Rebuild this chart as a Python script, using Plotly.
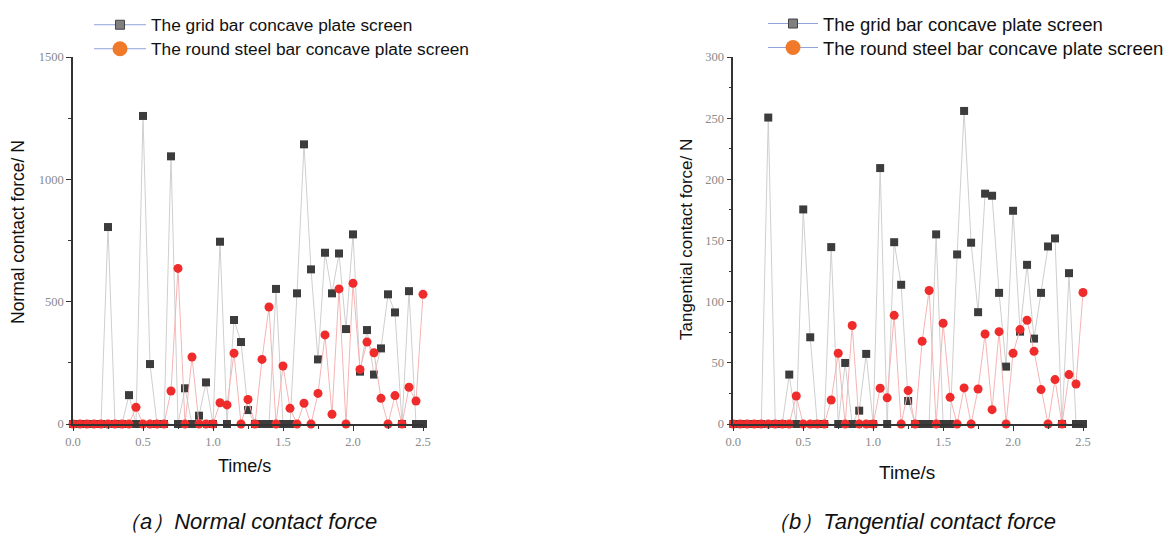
import plotly.graph_objects as go

# ---------------- data ----------------
time_s = [round(i * 0.05, 2) for i in range(51)]

normal_grid = [0, 0, 0, 0, 0, 805, 0, 0, 118, 0,
               1259, 245, 0, 0, 1094, 0, 146, 0, 34, 170,
               0, 745, 0, 425, 335, 57, 0, 0, 0, 552,
               0, 0, 534, 1143, 632, 264, 700, 534, 697, 388,
               775, 214, 384, 202, 309, 530, 456, 0, 543, 0, 0]

normal_round = [0, 0, 0, 0, 0, 0, 0, 0, 0, 68,
                0, 0, 0, 0, 135, 636, 0, 274, 0, 0,
                0, 87, 78, 289, 0, 100, 0, 264, 478, 0,
                237, 64, 0, 85, 0, 125, 364, 40, 552, 0,
                575, 223, 335, 291, 105, 0, 116, 0, 150, 94, 530]

tang_grid = [0, 0, 0, 0, 0, 250.5, 0, 0, 40.4, 0,
             175.4, 70.9, 0, 0, 144.6, 0, 49.9, 0, 10.9, 57.3,
             0, 209.2, 0, 148.6, 113.8, 18.8, 0, 0, 0, 155,
             0, 0, 138.6, 255.9, 148.2, 91.4, 188.3, 186.6, 107.2, 46.9,
             174.3, 75.5, 130.1, 69.8, 107.2, 145.1, 151.7, 0, 123.3, 0, 0]

tang_round = [0, 0, 0, 0, 0, 0, 0, 0, 0, 22.9,
              0, 0, 0, 0, 19.6, 57.8, 0, 80.5, 0, 0,
              0, 29.2, 21.4, 88.8, 0, 27.3, 0, 67.6, 109.1, 0,
              82.4, 21.8, 0, 29.5, 0, 28.6, 73.6, 11.7, 75.5, 0,
              57.8, 77.2, 84.8, 59.4, 28.1, 0, 36.3, 0, 40.4, 32.7, 107.5]

series_names = ["The grid bar concave plate screen",
                "The round steel bar concave plate screen"]
y_titles = ["Normal contact force/ N", "Tangential contact force/ N"]
x_title = "Time/s"
captions = ["（a）Normal contact force", "（b）Tangential contact force"]

# ---------------- styles ----------------
W, H = 1172, 534
GRAY_M = "#3c3c3c"
GRAY_L = "#cfcfcf"
RED_M = "#ef2b2b"
RED_L = "#f6b4b4"
TICKF = dict(family="Liberation Serif, Times New Roman, serif", size=12.5, color="#8a8a8a")
SANS = "Liberation Sans, Arial, sans-serif"

fig = go.Figure()

panels = [
    ("x", "y", normal_grid, normal_round, ("legend", "legend2")),
    ("x2", "y2", tang_grid, tang_round, ("legend3", "legend4")),
]

for xa, ya, g, r, lgs in panels:
    fig.add_trace(go.Scatter(
        x=time_s, y=g, xaxis=xa, yaxis=ya, mode="lines+markers",
        line=dict(color=GRAY_L, width=1),
        marker=dict(symbol="square", size=8, color=GRAY_M),
        cliponaxis=False, showlegend=False))
    fig.add_trace(go.Scatter(
        x=time_s, y=r, xaxis=xa, yaxis=ya, mode="lines+markers",
        line=dict(color=RED_L, width=1),
        marker=dict(symbol="circle", size=9, color=RED_M),
        cliponaxis=False, showlegend=False))
    # legend entries
    fig.add_trace(go.Scatter(
        x=[None], y=[None], xaxis=xa, yaxis=ya, mode="lines+markers",
        name=series_names[0], legend=lgs[0],
        line=dict(color="#8fa3d6", width=1),
        marker=dict(symbol="square", size=9, color="#808080",
                    line=dict(color="#444", width=1))))
    fig.add_trace(go.Scatter(
        x=[None], y=[None], xaxis=xa, yaxis=ya, mode="lines+markers",
        name=series_names[1], legend=lgs[1],
        line=dict(color="#8fa3d6", width=1),
        marker=dict(symbol="circle", size=15, color="#f07a2a")))

x_dom_left = [73 / W, 423 / W]
x_dom_right = [733.3 / W, 1083 / W]
y_dom = [1 - 424 / H, 1 - 57 / H]

def xaxis_cfg(anchor, dom):
    return dict(domain=dom, anchor=anchor, range=[0, 2.5],
                tickvals=[0, 0.5, 1.0, 1.5, 2.0, 2.5],
                ticktext=["0.0", "0.5", "1.0", "1.5", "2.0", "2.5"],
                showline=True, linecolor="#333", linewidth=1.5,
                ticks="outside", ticklen=5, tickcolor="#333", tickwidth=1,
                minor=dict(dtick=0.25, tick0=0, ticks="outside", ticklen=3,
                           tickcolor="#333"),
                showgrid=False, zeroline=False, tickfont=TICKF, automargin=False)

def yaxis_cfg(anchor, rng, dt):
    return dict(domain=y_dom, anchor=anchor, range=rng, dtick=dt, tick0=0,
                showline=True, linecolor="#333", linewidth=1.5,
                ticks="outside", ticklen=5, tickcolor="#333", tickwidth=1,
                minor=dict(dtick=dt / 2, tick0=0, ticks="outside", ticklen=3,
                           tickcolor="#333"),
                showgrid=False, zeroline=False, tickfont=TICKF, automargin=False)

def legend_cfg(px, py, width, size):
    return dict(x=px / W, y=1 - py / H, xanchor="left", yanchor="middle",
                bgcolor="rgba(0,0,0,0)", itemwidth=width,
                font=dict(family=SANS, size=size, color="#111"))

fig.update_layout(
    width=W, height=H,
    margin=dict(l=0, r=0, t=0, b=0, autoexpand=False),
    paper_bgcolor="white", plot_bgcolor="white",
    xaxis=xaxis_cfg("y", x_dom_left),
    yaxis=yaxis_cfg("x", [0, 1500], 500),
    xaxis2=xaxis_cfg("y2", x_dom_right),
    yaxis2=yaxis_cfg("x2", [0, 300], 50),
    legend=legend_cfg(89, 25, 52, 17.3),
    legend2=legend_cfg(89, 49, 52, 17.3),
    legend3=legend_cfg(763, 24, 50, 18.5),
    legend4=legend_cfg(763, 48, 50, 18.5),
    showlegend=True,
)

def note(text, px, py, size, angle=0):
    return dict(text=text, x=px / W, y=1 - py / H, xref="paper", yref="paper",
                xanchor="center", yanchor="middle", showarrow=False,
                textangle=angle, font=dict(family=SANS, size=size, color="#111"))

ann = [
    note(y_titles[0], 18, 232, 17.5, -90),
    note(y_titles[1], 686, 240, 17, -90),
    note(x_title, 244, 466, 18),
    note(x_title, 907, 472, 19),
    note("<i>" + captions[0] + "</i>", 247, 521, 22),
    note("<i>" + captions[1] + "</i>", 911, 521, 22),
]
fig.update_layout(annotations=ann)

fig.write_html("out.html", config={"displayModeBar": False},
               post_script="document.body.style.margin='0';document.body.style.overflow='hidden';")
